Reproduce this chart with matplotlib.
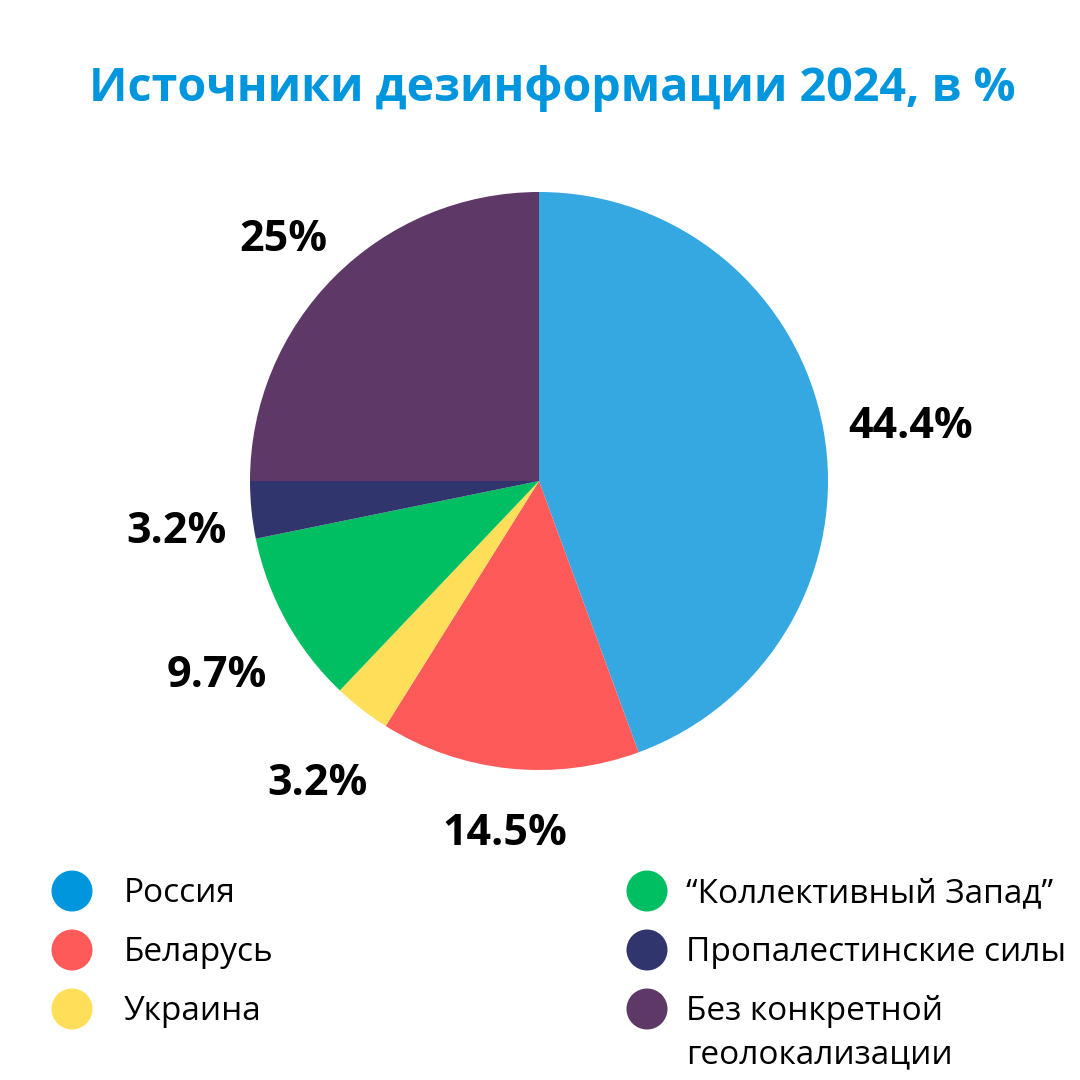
import matplotlib.pyplot as plt
from matplotlib.patches import Circle

plt.rcParams['font.family'] = ['Open Sans', 'DejaVu Sans']

# Данные
categories = ["Россия", "Беларусь", "Украина", "“Коллективный Запад”",
              "Пропалестинские силы", "Без конкретной\nгеолокализации"]
values = [44.4, 14.5, 3.2, 9.7, 3.2, 25.0]
slice_colors = ["#35A8E2", "#FF5A5A", "#FFDE59", "#00BF63", "#31356E", "#5E3866"]
legend_colors = ["#0096DE", "#FF5A5A", "#FFDE59", "#00BF63", "#31356E", "#5E3866"]

# Сдвиги подписей процентов (пиксели: вправо, вниз)
label_nudge = [(10, 10), (4, -12.5), (3, 12.5), (-1, 16.5), (3, 13.5), (4, 18)]

W = 1080
fig = plt.figure(figsize=(10.8, 10.8), dpi=100)
ax = fig.add_axes([0, 0, 1, 1])

def fmt(p):
    s = f"{p:.1f}"
    if s.endswith(".0"):
        s = s[:-2]
    return s + "%"

wedges, texts, autotexts = ax.pie(values, colors=slice_colors, startangle=90,
                                  counterclock=False, center=(539, W - 481),
                                  radius=289, autopct=fmt, pctdistance=1.27,
                                  wedgeprops=dict(linewidth=0),
                                  textprops=dict(fontsize=31, fontweight='bold',
                                                 color='black'))
for t, (dx, dy) in zip(autotexts, label_nudge):
    x, y = t.get_position()
    t.set_position((x + dx, y - dy))

ax.set_xlim(0, W)
ax.set_ylim(0, W)
ax.set_aspect('equal')
ax.axis('off')

# Заголовок
ax.text(552, W - 101, "Источники дезинформации 2024, в %", ha='center', va='baseline',
        fontsize=33.6, fontweight='bold', color='#0096DE')

# Легенда
columns = [(72, 124), (647, 686)]
rows_y = [891, 950, 1009]
for i, (name, col) in enumerate(zip(categories, legend_colors)):
    cx, tx = columns[i // 3]
    y = rows_y[i % 3]
    ax.add_patch(Circle((cx, W - y), 20.5, color=col, lw=0))
    lines = name.split("\n")
    for k, line in enumerate(lines):
        ax.text(tx, W - (y + 11 + 43 * k), line, ha='left', va='baseline',
                fontsize=24, color='black')

fig.savefig("out.png", dpi=100)
